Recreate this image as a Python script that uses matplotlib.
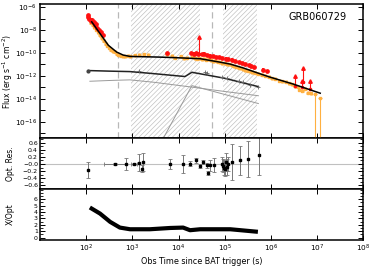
import numpy as np
import matplotlib
matplotlib.use("Agg")
import matplotlib.pyplot as plt
from matplotlib.ticker import FixedLocator, FixedFormatter, MultipleLocator, NullFormatter, NullLocator

plt.rcParams['font.family'] = ['DejaVu Sans']
plt.rcParams['hatch.linewidth'] = 0.45

# ---------------- data (log10 time, log10 flux) ----------------
title = "GRB060729"

model_logt = [2.12, 2.30, 2.48, 2.66, 2.80, 2.95, 3.60, 4.00, 4.47, 4.90, 5.12, 5.40, 5.70, 5.98, 6.48, 7.07]
model_logf = [-7.29, -8.31, -9.33, -9.92, -10.18, -10.30, -10.36, -10.42, -10.50, -10.80, -10.97, -11.30, -11.72, -12.10, -12.70, -13.50]

dark_logt = [2.05, 2.50, 2.95, 3.47, 4.14, 4.29, 5.00, 5.73]
dark_logf = [-11.53, -11.58, -11.62, -11.80, -12.05, -11.68, -12.20, -12.93]

compA_logt = [2.08, 2.60, 2.95, 3.47, 4.25, 5.00, 5.73]
compA_logf = [-12.46, -12.38, -12.34, -12.55, -12.95, -13.35, -13.72]

compB_logt = [3.62, 4.29, 5.73]
compB_logf = [-17.80, -12.84, -14.40]

grey_logt = [3.15, 4.57, 4.62, 4.95, 5.05, 5.30, 5.40, 5.55, 5.73]
grey_logf = [-11.60, -11.62, -11.75, -12.05, -12.15, -12.40, -12.50, -12.75, -12.95]

xray_logt = [2.10, 2.14, 2.18, 2.22, 2.26, 2.30, 2.34, 2.38, 2.42, 2.46, 2.50, 2.54, 2.58, 2.62,
             2.66, 2.70, 2.75, 2.80, 2.85, 2.90, 2.95, 3.05, 3.15, 3.25, 3.35, 3.75, 3.85, 3.92,
             4.05, 4.12, 4.18, 4.30, 4.35, 4.40, 4.45, 4.50, 4.55, 4.60, 4.65, 4.70, 4.75, 4.80,
             4.85, 4.90, 4.95, 5.00, 5.05, 5.10, 5.15, 5.20, 5.25, 5.30, 5.35, 5.40, 5.45, 5.50,
             5.55, 5.60, 5.65, 5.72, 5.80, 5.88, 5.95, 6.02, 6.10, 6.18, 6.25, 6.32, 6.40, 6.46,
             6.52, 6.58, 6.62, 6.68, 6.75, 6.80, 6.86]
xray_logf = [-7.35, -7.55, -7.75, -8.00, -8.20, -8.45, -8.70, -8.95, -9.20, -9.35, -9.55, -9.70, -9.85, -9.90,
             -10.05, -10.15, -10.25, -10.28, -10.30, -10.25, -10.30, -10.20, -10.15, -10.10, -10.15, -10.10, -10.25, -10.40,
             -10.30, -10.45, -10.40, -10.35, -10.45, -10.50, -10.45, -10.55, -10.50, -10.60, -10.55, -10.65, -10.70, -10.68,
             -10.78, -10.80, -10.90, -10.88, -10.98, -11.00, -11.05, -11.15, -11.20, -11.30, -11.35, -11.40, -11.50, -11.55,
             -11.60, -11.68, -11.72, -11.80, -11.90, -12.00, -12.05, -12.20, -12.25, -12.40, -12.45, -12.50, -12.65, -12.70,
             -12.90, -12.95, -13.20, -13.30, -13.10, -13.45, -13.50]
xray_late_logt = [6.96, 7.07]
xray_late_logf = [-13.57, -13.96]

opt_logt = [2.03, 2.05, 2.07, 2.10, 2.13, 2.16, 2.18, 2.20, 2.22, 2.24, 2.28, 2.32, 2.36,
            3.74, 4.28, 4.33, 4.38, 4.43, 4.50, 4.56, 4.62, 4.68, 4.75, 4.82, 4.88, 4.95,
            5.02, 5.08, 5.15, 5.22, 5.30, 5.38, 5.45, 5.52, 5.58, 5.63, 5.82, 5.92]
opt_logf = [-6.70, -6.90, -7.05, -7.20, -7.10, -7.40, -7.30, -7.60, -7.50, -7.80, -8.00, -8.20, -8.45,
            -10.00, -10.00, -10.05, -10.00, -10.10, -10.10, -10.05, -10.20, -10.25, -10.30, -10.35, -10.38, -10.45,
            -10.50, -10.55, -10.60, -10.70, -10.80, -10.90, -10.95, -11.05, -11.15, -11.25, -11.45, -11.60]

arrow_logt = [4.45, 6.53, 6.69, 6.68, 6.84]
arrow_base = [-10.06, -12.84, -12.55, -12.99, -13.10]
arrow_top = [-8.60, -11.96, -11.35, -12.40, -12.40]

hatch_spans = [(2.97, 4.47), (4.97, 5.70)]
dashed_logt = [2.69, 4.73]

res_logt = [2.04, 2.625, 2.864, 3.037, 3.152, 3.204, 3.239, 3.818, 4.106, 4.251, 4.375, 4.468, 4.539, 4.613,
            4.648, 4.684, 4.778, 4.94, 4.97, 4.99, 5.01, 5.03, 5.05, 5.08, 5.168, 5.335, 5.502, 5.753]
res_val = [-0.17, 0.0, 0.0, 0.0, 0.04, -0.13, 0.05, 0.0, 0.0, 0.01, 0.10, -0.06, 0.05, -0.04,
           -0.26, -0.04, -0.02, 0.0, -0.05, -0.10, -0.15, 0.05, -0.08, 0.0, 0.05, 0.10, 0.14, 0.25]
res_err = [0.23, 0.02, 0.16, 0.02, 0.25, 0.10, 0.25, 0.15, 0.24, 0.07, 0.08, 0.06, 0.06, 0.07,
           0.05, 0.15, 0.20, 0.20, 0.18, 0.20, 0.20, 0.25, 0.22, 0.20, 0.50, 0.40, 0.50, 0.57]
res_xerr = [0.0, 0.23, 0.0, 0.06, 0.0, 0.0, 0.0, 0.0, 0.0, 0.0, 0.0, 0.0, 0.0, 0.0,
            0.0, 0.0, 0.0, 0.0, 0.0, 0.0, 0.0, 0.0, 0.0, 0.0, 0.0, 0.0, 0.0, 0.0]

ratio_logt = [2.08, 2.30, 2.52, 2.73, 2.95, 3.38, 3.82, 4.10, 4.25, 4.47, 5.12, 5.72]
ratio_val = [4.7, 3.75, 2.45, 1.56, 1.3, 1.3, 1.5, 1.56, 1.15, 1.3, 1.3, 0.9]

res_ticks = [-0.6, -0.4, -0.2, 0.0, 0.2, 0.4, 0.6]
res_labels = ['\u22120.6', '\u22120.4', '\u22120.2', '\u22120.0', '0.2', '0.4', '0.6']
ratio_ticks = [0, 1, 2, 3, 4, 5, 6]
xtick_exp = [2, 3, 4, 5, 6, 7, 8]
flux_label_exp = [-16, -14, -12, -10, -8, -6]

# ---------------- helpers ----------------
def p10(a):
    return 10.0 ** np.asarray(a, dtype=float)

ORANGE = '#FFB040'
RED = '#FF1010'

fig = plt.figure(figsize=(3.74, 2.68), dpi=100)
L, W = 0.107, 0.864
ax1 = fig.add_axes([L, 0.485, W, 0.500])
ax2 = fig.add_axes([L, 0.295, W, 0.190])
ax3 = fig.add_axes([L, 0.104, W, 0.191])

for ax in (ax1, ax2, ax3):
    ax.set_xscale('log')
    ax.set_xlim(1e1, 1e8)
    ax.xaxis.set_major_locator(FixedLocator(p10(xtick_exp)))
    ax.xaxis.set_minor_locator(NullLocator())
    ax.tick_params(which='both', direction='in', top=True, right=True, labelsize=5.3, pad=2)
    ax.tick_params(which='major', length=3.5, width=0.7)
    ax.tick_params(which='minor', length=2, width=0.6)
    for s in ax.spines.values():
        s.set_linewidth(1.1)

# ---- top panel ----
ax1.set_yscale('log')
ax1.set_ylim(10 ** -17.4, 10 ** -5.74)
for a, b in hatch_spans:
    ax1.axvspan(10 ** a, 10 ** b, facecolor='none', edgecolor='#bdbdbd', hatch='/' * 7, lw=0, zorder=0)
for d in dashed_logt:
    ax1.axvline(10 ** d, color='#b8b8b8', lw=0.9, ls=(0, (5, 3)), zorder=0.5)

ax1.plot(p10(compA_logt), p10(compA_logf), color='#9a9a9a', lw=0.7, zorder=1)
ax1.plot(p10(compB_logt), p10(compB_logf), color='#9a9a9a', lw=0.7, zorder=1)
ax1.plot(p10(dark_logt), p10(dark_logf), color='#222222', lw=1.1, zorder=2)
ax1.plot(p10(dark_logt[:1]), p10(dark_logf[:1]), 'o', color='#444444', ms=2, zorder=2)
ax1.plot(p10(grey_logt), p10(grey_logf), '+', color='#666666', ms=2.5, mew=0.6, zorder=2)

xt = np.asarray(xray_logt); xf = np.asarray(xray_logf)
dx, dy = 0.035, 0.13
ax1.errorbar(p10(xt), p10(xf),
             xerr=[p10(xt) - p10(xt - dx), p10(xt + dx) - p10(xt)],
             yerr=[p10(xf) - p10(xf - dy), p10(xf + dy) - p10(xf)],
             fmt='s', ms=2.0, color=ORANGE, ecolor=ORANGE, elinewidth=1.8, capsize=0, zorder=3)
lt = np.asarray(xray_late_logt); lf = np.asarray(xray_late_logf)
ax1.errorbar(p10(lt), p10(lf),
             xerr=[p10(lt) - p10(lt - 0.04), p10(lt + 0.04) - p10(lt)],
             yerr=[p10(lf) - 10 ** -18.5, p10(lf + 0.1) - p10(lf)],
             fmt='s', ms=1.8, color=ORANGE, ecolor=ORANGE, elinewidth=0.8, capsize=0, zorder=3)

ot = np.asarray(opt_logt); of = np.asarray(opt_logf)
ax1.errorbar(p10(ot), p10(of),
             yerr=[p10(of) - p10(of - 0.12), p10(of + 0.12) - p10(of)],
             fmt='o', ms=2.4, color=RED, ecolor=RED, elinewidth=1.3, capsize=0, zorder=4)
for t, b, tp in zip(arrow_logt, arrow_base, arrow_top):
    ax1.plot([10 ** t, 10 ** t], [10 ** b, 10 ** tp], color=RED, lw=0.8, zorder=4)
    ax1.plot([10 ** t], [10 ** tp], marker='^', color=RED, ms=2.5, zorder=4)
    ax1.plot([10 ** t], [10 ** b], marker='o', color=RED, ms=1.6, zorder=4)

ax1.plot(p10(model_logt), p10(model_logf), color='black', lw=1.1, zorder=5)

ax1.yaxis.set_major_locator(FixedLocator(p10(np.arange(-17, -5))))
ax1.yaxis.set_minor_locator(NullLocator())
ax1.yaxis.set_major_formatter(FixedFormatter(
    [('$10^{%d}$' % e) if e in flux_label_exp else '' for e in range(-17, -5)]))
ax1.xaxis.set_major_formatter(NullFormatter())
ax1.set_ylabel('Flux (erg s$^{-1}$ cm$^{-2}$)', fontsize=5.5, labelpad=2)
ax1.text(0.86, 0.905, title, transform=ax1.transAxes, ha='center', va='center', fontsize=7)

# ---- residual panel ----
ax2.set_ylim(-0.70, 0.73)
ax2.axhline(0, color='#c0c0c0', lw=0.8, zorder=0)
rt = np.asarray(res_logt); rx = np.asarray(res_xerr)
ax2.errorbar(p10(rt), res_val, yerr=res_err,
             xerr=[p10(rt) - p10(rt - rx), p10(rt + rx) - p10(rt)],
             fmt='s', ms=1.5, color='black', ecolor='#777777', elinewidth=0.7,
             capsize=1.6, capthick=0.6, zorder=2)
ax2.yaxis.set_major_locator(FixedLocator(res_ticks))
ax2.yaxis.set_major_formatter(FixedFormatter(res_labels))
ax2.yaxis.set_minor_locator(MultipleLocator(0.1))
ax2.xaxis.set_major_formatter(NullFormatter())
ax2.tick_params(axis='y', labelsize=4.5, pad=1.5)
ax2.set_ylabel('Opt. Res.', fontsize=5.5, labelpad=2)

# ---- ratio panel ----
ax3.set_ylim(-0.4, 7.6)
ax3.plot(p10(ratio_logt), ratio_val, color='black', lw=3.0, solid_capstyle='butt')
ax3.yaxis.set_major_locator(FixedLocator(ratio_ticks))
ax3.yaxis.set_minor_locator(MultipleLocator(0.5))
ax3.xaxis.set_major_formatter(FixedFormatter(['$10^{%d}$' % e for e in xtick_exp]))
ax3.tick_params(axis='y', labelsize=4.5, pad=1.5)
ax3.set_ylabel('X/Opt', fontsize=5.5, labelpad=4)
ax3.set_xlabel('Obs Time since BAT trigger (s)', fontsize=5.8, labelpad=2)

for ax in (ax1, ax2, ax3):
    ax.yaxis.set_label_coords(-0.078, 0.5)

fig.savefig('out.png', dpi=100)
